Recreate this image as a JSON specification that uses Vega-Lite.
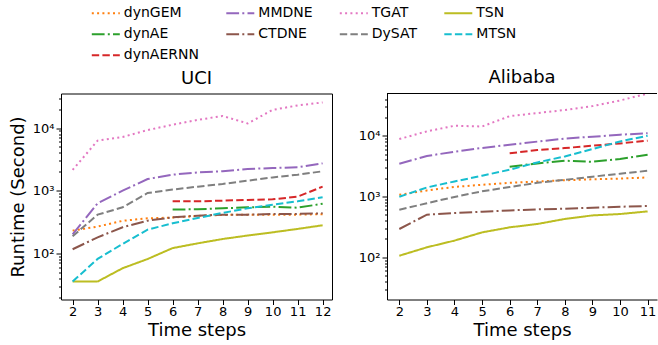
{
  "$schema": "https://vega.github.io/schema/vega-lite/v6.json",
  "padding": {"left": 8, "top": 4.5, "right": 0, "bottom": 0},
  "background": "white",
  "config": {
    "font": "DejaVu Sans",
    "view": {"stroke": "#000", "strokeWidth": 1},
    "axis": {"grid": false, "domain": false, "tickColor": "#000", "labelColor": "#000", "titleColor": "#000", "labelFontSize": 13, "titleFontSize": 18, "titleFontWeight": "normal", "labelFont": "DejaVu Sans", "titleFont": "DejaVu Sans", "tickSize": 5},
    "title": {"fontSize": 18, "fontWeight": "normal", "font": "DejaVu Sans", "color": "#000", "offset": 6, "baseline": "alphabetic", "frame": "group"},
    "legend": {"orient": "none", "legendX": 36.8, "legendY": -88.2, "columns": 4, "direction": "horizontal", "title": null, "labelFontSize": 14, "labelFont": "DejaVu Sans", "labelColor": "#000", "symbolType": "M-2,0L2,0", "symbolSize": 196, "symbolStrokeWidth": 2, "labelOffset": 10, "columnPadding": 22.5, "rowPadding": 6, "padding": 0}
  },
  "datasets": {
    "uci": [
      {"t": 2, "m": "dynGEM", "v": 230}, {"t": 3, "m": "dynGEM", "v": 267}, {"t": 4, "m": "dynGEM", "v": 330}, {"t": 5, "m": "dynGEM", "v": 362}, {"t": 6, "m": "dynGEM", "v": 372}, {"t": 7, "m": "dynGEM", "v": 395}, {"t": 8, "m": "dynGEM", "v": 410}, {"t": 9, "m": "dynGEM", "v": 412}, {"t": 10, "m": "dynGEM", "v": 412}, {"t": 11, "m": "dynGEM", "v": 414}, {"t": 12, "m": "dynGEM", "v": 422},
      {"t": 6, "m": "dynAE", "v": 500}, {"t": 7, "m": "dynAE", "v": 505}, {"t": 8, "m": "dynAE", "v": 523}, {"t": 9, "m": "dynAE", "v": 542}, {"t": 10, "m": "dynAE", "v": 556}, {"t": 11, "m": "dynAE", "v": 535}, {"t": 12, "m": "dynAE", "v": 618},
      {"t": 6, "m": "dynAERNN", "v": 676}, {"t": 7, "m": "dynAERNN", "v": 676}, {"t": 8, "m": "dynAERNN", "v": 693}, {"t": 9, "m": "dynAERNN", "v": 710}, {"t": 10, "m": "dynAERNN", "v": 728}, {"t": 11, "m": "dynAERNN", "v": 802}, {"t": 12, "m": "dynAERNN", "v": 1160},
      {"t": 2, "m": "MMDNE", "v": 200}, {"t": 3, "m": "MMDNE", "v": 628}, {"t": 4, "m": "MMDNE", "v": 1000}, {"t": 5, "m": "MMDNE", "v": 1535}, {"t": 6, "m": "MMDNE", "v": 1800}, {"t": 7, "m": "MMDNE", "v": 1960}, {"t": 8, "m": "MMDNE", "v": 2040}, {"t": 9, "m": "MMDNE", "v": 2220}, {"t": 10, "m": "MMDNE", "v": 2300}, {"t": 11, "m": "MMDNE", "v": 2360}, {"t": 12, "m": "MMDNE", "v": 2730},
      {"t": 2, "m": "CTDNE", "v": 116}, {"t": 3, "m": "CTDNE", "v": 180}, {"t": 4, "m": "CTDNE", "v": 260}, {"t": 5, "m": "CTDNE", "v": 332}, {"t": 6, "m": "CTDNE", "v": 375}, {"t": 7, "m": "CTDNE", "v": 399}, {"t": 8, "m": "CTDNE", "v": 414}, {"t": 9, "m": "CTDNE", "v": 414}, {"t": 10, "m": "CTDNE", "v": 424}, {"t": 11, "m": "CTDNE", "v": 426}, {"t": 12, "m": "CTDNE", "v": 435},
      {"t": 2, "m": "TGAT", "v": 2150}, {"t": 3, "m": "TGAT", "v": 6290}, {"t": 4, "m": "TGAT", "v": 7200}, {"t": 5, "m": "TGAT", "v": 9290}, {"t": 6, "m": "TGAT", "v": 11300}, {"t": 7, "m": "TGAT", "v": 13500}, {"t": 8, "m": "TGAT", "v": 15600}, {"t": 9, "m": "TGAT", "v": 11850}, {"t": 10, "m": "TGAT", "v": 19500}, {"t": 11, "m": "TGAT", "v": 23000}, {"t": 12, "m": "TGAT", "v": 25700},
      {"t": 2, "m": "DySAT", "v": 187}, {"t": 3, "m": "DySAT", "v": 414}, {"t": 4, "m": "DySAT", "v": 542}, {"t": 5, "m": "DySAT", "v": 918}, {"t": 6, "m": "DySAT", "v": 1040}, {"t": 7, "m": "DySAT", "v": 1160}, {"t": 8, "m": "DySAT", "v": 1280}, {"t": 9, "m": "DySAT", "v": 1445}, {"t": 10, "m": "DySAT", "v": 1630}, {"t": 11, "m": "DySAT", "v": 1800}, {"t": 12, "m": "DySAT", "v": 2040},
      {"t": 2, "m": "TSN", "v": 35.4}, {"t": 3, "m": "TSN", "v": 35.4}, {"t": 4, "m": "TSN", "v": 57.7}, {"t": 5, "m": "TSN", "v": 81}, {"t": 6, "m": "TSN", "v": 121}, {"t": 7, "m": "TSN", "v": 144}, {"t": 8, "m": "TSN", "v": 169}, {"t": 9, "m": "TSN", "v": 192}, {"t": 10, "m": "TSN", "v": 216}, {"t": 11, "m": "TSN", "v": 245}, {"t": 12, "m": "TSN", "v": 280},
      {"t": 2, "m": "MTSN", "v": 35.4}, {"t": 3, "m": "MTSN", "v": 81.3}, {"t": 4, "m": "MTSN", "v": 141}, {"t": 5, "m": "MTSN", "v": 239}, {"t": 6, "m": "MTSN", "v": 301}, {"t": 7, "m": "MTSN", "v": 366}, {"t": 8, "m": "MTSN", "v": 441}, {"t": 9, "m": "MTSN", "v": 523}, {"t": 10, "m": "MTSN", "v": 598}, {"t": 11, "m": "MTSN", "v": 676}, {"t": 12, "m": "MTSN", "v": 783}
    ],
    "alibaba": [
      {"t": 2, "m": "dynGEM", "v": 1065}, {"t": 3, "m": "dynGEM", "v": 1260}, {"t": 4, "m": "dynGEM", "v": 1440}, {"t": 5, "m": "dynGEM", "v": 1560}, {"t": 6, "m": "dynGEM", "v": 1680}, {"t": 7, "m": "dynGEM", "v": 1770}, {"t": 8, "m": "dynGEM", "v": 1850}, {"t": 9, "m": "dynGEM", "v": 1920}, {"t": 10, "m": "dynGEM", "v": 1970}, {"t": 11, "m": "dynGEM", "v": 2060},
      {"t": 6, "m": "dynAE", "v": 3090}, {"t": 7, "m": "dynAE", "v": 3500}, {"t": 8, "m": "dynAE", "v": 3880}, {"t": 9, "m": "dynAE", "v": 3730}, {"t": 10, "m": "dynAE", "v": 4140}, {"t": 11, "m": "dynAE", "v": 4870},
      {"t": 6, "m": "dynAERNN", "v": 5150}, {"t": 7, "m": "dynAERNN", "v": 5820}, {"t": 8, "m": "dynAERNN", "v": 6270}, {"t": 9, "m": "dynAERNN", "v": 6850}, {"t": 10, "m": "dynAERNN", "v": 7480}, {"t": 11, "m": "dynAERNN", "v": 8280},
      {"t": 2, "m": "MMDNE", "v": 3450}, {"t": 3, "m": "MMDNE", "v": 4650}, {"t": 4, "m": "MMDNE", "v": 5460}, {"t": 5, "m": "MMDNE", "v": 6300}, {"t": 6, "m": "MMDNE", "v": 7100}, {"t": 7, "m": "MMDNE", "v": 8000}, {"t": 8, "m": "MMDNE", "v": 9000}, {"t": 9, "m": "MMDNE", "v": 9630}, {"t": 10, "m": "MMDNE", "v": 10400}, {"t": 11, "m": "MMDNE", "v": 11000},
      {"t": 2, "m": "CTDNE", "v": 292}, {"t": 3, "m": "CTDNE", "v": 502}, {"t": 4, "m": "CTDNE", "v": 535}, {"t": 5, "m": "CTDNE", "v": 562}, {"t": 6, "m": "CTDNE", "v": 591}, {"t": 7, "m": "CTDNE", "v": 614}, {"t": 8, "m": "CTDNE", "v": 630}, {"t": 9, "m": "CTDNE", "v": 654}, {"t": 10, "m": "CTDNE", "v": 679}, {"t": 11, "m": "CTDNE", "v": 697},
      {"t": 2, "m": "TGAT", "v": 8820}, {"t": 3, "m": "TGAT", "v": 11800}, {"t": 4, "m": "TGAT", "v": 14600}, {"t": 5, "m": "TGAT", "v": 14200}, {"t": 6, "m": "TGAT", "v": 21000}, {"t": 7, "m": "TGAT", "v": 23600}, {"t": 8, "m": "TGAT", "v": 26500}, {"t": 9, "m": "TGAT", "v": 30700}, {"t": 10, "m": "TGAT", "v": 38000}, {"t": 11, "m": "TGAT", "v": 49500},
      {"t": 2, "m": "DySAT", "v": 605}, {"t": 3, "m": "DySAT", "v": 775}, {"t": 4, "m": "DySAT", "v": 985}, {"t": 5, "m": "DySAT", "v": 1220}, {"t": 6, "m": "DySAT", "v": 1430}, {"t": 7, "m": "DySAT", "v": 1680}, {"t": 8, "m": "DySAT", "v": 1880}, {"t": 9, "m": "DySAT", "v": 2120}, {"t": 10, "m": "DySAT", "v": 2370}, {"t": 11, "m": "DySAT", "v": 2650},
      {"t": 2, "m": "TSN", "v": 106}, {"t": 3, "m": "TSN", "v": 146}, {"t": 4, "m": "TSN", "v": 188}, {"t": 5, "m": "TSN", "v": 257}, {"t": 6, "m": "TSN", "v": 311}, {"t": 7, "m": "TSN", "v": 353}, {"t": 8, "m": "TSN", "v": 427}, {"t": 9, "m": "TSN", "v": 489}, {"t": 10, "m": "TSN", "v": 515}, {"t": 11, "m": "TSN", "v": 569},
      {"t": 2, "m": "MTSN", "v": 993}, {"t": 3, "m": "MTSN", "v": 1410}, {"t": 4, "m": "MTSN", "v": 1770}, {"t": 5, "m": "MTSN", "v": 2200}, {"t": 6, "m": "MTSN", "v": 2760}, {"t": 7, "m": "MTSN", "v": 3640}, {"t": 8, "m": "MTSN", "v": 4570}, {"t": 9, "m": "MTSN", "v": 6040}, {"t": 10, "m": "MTSN", "v": 8060}, {"t": 11, "m": "MTSN", "v": 10000}
    ]
  },
  "spacing": 25,
  "resolve": {"scale": {"x": "independent", "y": "independent"}},
  "hconcat": [
    {
      "title": "UCI",
      "width": 271,
      "height": 206,
      "data": {"name": "uci"},
      "mark": {"type": "line", "strokeWidth": 2, "clip": true},
      "encoding": {
        "x": {"field": "t", "type": "quantitative", "scale": {"domain": [1.535, 12.375], "nice": false, "zero": false},
              "axis": {"values": [2, 3, 4, 5, 6, 7, 8, 9, 10, 11, 12], "format": "d", "title": "Time steps", "labelPadding": 1, "titlePadding": 3, "labelFlush": false}},
        "y": {"field": "v", "type": "quantitative", "scale": {"type": "log", "domain": [18.27, 35650], "nice": false},
              "axis": {"values": [20, 30, 40, 50, 60, 70, 80, 90, 100, 200, 300, 400, 500, 600, 700, 800, 900, 1000, 2000, 3000, 4000, 5000, 6000, 7000, 8000, 9000, 10000, 20000, 30000],
                       "labelExpr": "datum.value == 100 ? '10²' : datum.value == 1000 ? '10³' : datum.value == 10000 ? '10⁴' : ''",
                       "tickSize": {"condition": {"test": "datum.value == 100 || datum.value == 1000 || datum.value == 10000", "value": 5}, "value": 2.5},
                       "title": "Runtime (Second)", "labelPadding": 2, "titlePadding": 5, "labelFlush": false}},
        "color": {"field": "m", "type": "nominal",
                  "scale": {"domain": ["dynGEM", "MMDNE", "TGAT", "TSN", "dynAE", "CTDNE", "DySAT", "MTSN", "dynAERNN"],
                            "range": ["#ff7f0e", "#9467bd", "#e377c2", "#bcbd22", "#2ca02c", "#8c564b", "#7f7f7f", "#17becf", "#d62728"]}},
        "strokeDash": {"field": "m", "type": "nominal",
                  "scale": {"domain": ["dynGEM", "MMDNE", "TGAT", "TSN", "dynAE", "CTDNE", "DySAT", "MTSN", "dynAERNN"],
                            "range": [[2, 3.3], [12.8, 3.2, 2, 3.2], [2, 3.3], [1, 0], [12.8, 3.2, 2, 3.2], [12.8, 3.2, 2, 3.2], [7.4, 3.2], [7.4, 3.2], [7.4, 3.2]]}}
      }
    },
    {
      "title": "Alibaba",
      "width": 270,
      "height": 206,
      "data": {"name": "alibaba"},
      "view": {"stroke": null},
      "layer": [
        {
          "mark": {"type": "line", "strokeWidth": 2, "clip": true},
          "encoding": {
            "x": {"field": "t", "type": "quantitative", "scale": {"domain": [1.554, 11.34], "nice": false, "zero": false},
                  "axis": {"values": [2, 3, 4, 5, 6, 7, 8, 9, 10, 11], "format": "d", "title": "Time steps", "labelPadding": 1, "titlePadding": 3, "labelFlush": false, "domain": true, "domainColor": "#000"}},
            "y": {"field": "v", "type": "quantitative", "scale": {"type": "log", "domain": [20.2, 49550], "nice": false},
                  "axis": {"values": [30, 40, 50, 60, 70, 80, 90, 100, 200, 300, 400, 500, 600, 700, 800, 900, 1000, 2000, 3000, 4000, 5000, 6000, 7000, 8000, 9000, 10000, 20000, 30000, 40000],
                           "labelExpr": "datum.value == 100 ? '10²' : datum.value == 1000 ? '10³' : datum.value == 10000 ? '10⁴' : ''",
                           "tickSize": {"condition": {"test": "datum.value == 100 || datum.value == 1000 || datum.value == 10000", "value": 5}, "value": 2.5},
                           "title": null, "labelPadding": 2, "labelFlush": false, "domain": true, "domainColor": "#000"}},
            "color": {"field": "m", "type": "nominal"},
            "strokeDash": {"field": "m", "type": "nominal"}
          }
        },
        {
          "mark": {"type": "rule", "color": "#000", "strokeWidth": 1},
          "encoding": {"y": {"datum": 49550}}
        }
      ]
    }
  ]
}
